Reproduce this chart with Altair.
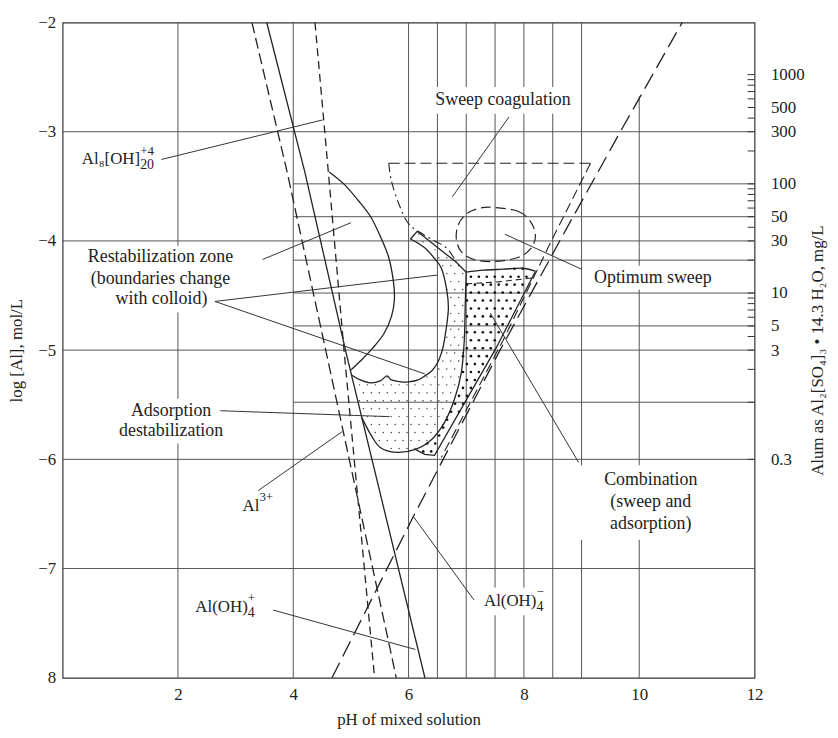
import altair as alt
import numpy as np
import pandas as pd

# ---------------- axes / grid values ----------------
PH_TICKS = [2, 4, 6, 8, 10, 12]
LOG_TICKS = [-2, -3, -4, -5, -6, -7, -8]
V_GRID_FULL = [2, 4, 6, 6.5, 7, 7.5, 8, 8.5, 9]
V_GRID_PH10 = 10
V_GRID_PH10_TOP = -2.676
H_GRID_FULL = [-3, -4, -5, -6, -7]
ALUM_GRID_MG = [100, 50, 20, 10, 5, 1]          # partial lines, pH 4 .. 12
ALUM_LABELS_MG = [0.3, 3, 5, 10, 30, 50, 100, 300, 500, 1000]
ALUM_TICKS_MG = [0.3, 1, 2, 3, 4, 5, 6, 7, 8, 9, 10, 20, 30, 40, 50, 60, 70, 80, 90,
                 100, 200, 300, 400, 500, 600, 700, 800, 900, 1000]
MG_PER_MOL_AL = 3.0e5   # 1e-3 mol/L Al  ->  ~300 mg/L alum

# ---------------- boundary lines (pH, log[Al]) ----------------
AL3_LINE = [(3.284, -2.0), (3.89, -3.36), (4.574, -5.027), (5.787, -8.0)]        # long dash
AL8_LINE = [(4.377, -2.0), (4.607, -3.36), (4.885, -5.027), (5.41, -8.0)]        # short dash
ALOH_P_LINE = [(3.54, -2.0), (4.197, -3.36), (4.918, -5.027), (6.283, -8.0)]     # solid
ALOH4_LINE = [(4.672, -8.0), (6.083, -6.524), (7.586, -5.0), (8.667, -3.956),
              (9.672, -3.0), (10.745, -2.0)]                                     # long dash

# ---------------- zones ----------------
RESTAB1 = [(4.623, -3.368), (4.885, -3.482), (5.131, -3.632), (5.344, -3.781), (5.508, -3.956),
           (5.656, -4.152), (5.738, -4.375), (5.754, -4.536), (5.705, -4.688), (5.574, -4.848),
           (5.377, -4.982), (5.164, -5.1), (5.0, -5.182)]
RESTAB2 = [(5.01, -5.227), (5.164, -5.273), (5.344, -5.3), (5.508, -5.282), (5.623, -5.236),
           (5.705, -5.273), (5.869, -5.291), (6.0, -5.291), (6.167, -5.273), (6.283, -5.236),
           (6.4, -5.191), (6.5, -5.118), (6.569, -5.027), (6.621, -4.911), (6.69, -4.625),
           (6.655, -4.429), (6.569, -4.25), (6.45, -4.161), (6.317, -4.08), (6.183, -4.027),
           (6.033, -3.982)]
ROOF = [(6.033, -3.982), (6.15, -3.912), (6.828, -4.196), (7.0, -4.286)]
ADSORB_EDGE = [(5.19, -5.618), (5.344, -5.773), (5.508, -5.891), (5.787, -5.936), (6.117, -5.909),
               (6.4, -5.818), (6.621, -5.664), (6.793, -5.455), (6.914, -5.209), (6.966, -4.911),
               (6.983, -4.58), (7.0, -4.286)]
COMB_EDGE = [(6.117, -5.909), (6.283, -5.955), (6.45, -5.964), (7.517, -4.982), (8.2, -4.277)]
COMB_TOP = [(7.0, -4.286), (7.3, -4.268), (7.638, -4.259), (7.983, -4.25), (8.2, -4.277)]
COMB_DASH = [(7.0, -4.393), (7.552, -4.375), (8.15, -4.339)]
SWEEP_TOP = [(5.656, -3.289), (9.155, -3.289)]
SWEEP_LEFT = [(5.656, -3.289), (5.705, -3.456), (5.836, -3.667), (6.0, -3.842), (6.25, -3.939),
              (6.45, -4.0), (6.672, -4.071), (6.828, -4.196)]
SWEEP_RIGHT = [(9.155, -3.289), (8.517, -3.956), (7.638, -4.911), (6.569, -5.982)]
OPTIMUM = [(7.467, -3.693), (7.897, -3.728), (8.117, -3.825), (8.2, -3.956), (8.117, -4.071),
           (7.897, -4.152), (7.467, -4.188), (7.133, -4.17), (6.914, -4.098), (6.828, -3.982),
           (6.862, -3.851), (7.0, -3.754), (7.217, -3.702)]

# ---------------- labels and leaders ----------------
LEADERS = [
    ((1.714, -3.254), (4.508, -2.892)),
    ((3.468, -4.17), (5.0, -3.833)),
    ((2.642, -4.554), (6.5, -4.3125)),
    ((2.642, -4.554), (6.283, -5.218)),
    ((2.734, -5.555), (5.672, -5.609)),
    ((3.394, -6.286), (4.852, -5.745)),
    ((3.651, -7.38), (6.117, -7.741)),
    ((7.133, -7.287), (6.083, -6.524)),
    ((7.741, -2.865), (6.759, -3.596)),
    ((7.672, -3.939), (9.0, -4.259)),
    ((7.417, -4.661), (8.95, -6.029)),
]
CENTER_TEXT = [
    ("Sweep coagulation", 7.638, -2.712),
    ("Optimum sweep", 10.236, -4.339),
    ("Combination", 10.2, -6.19),
    ("(sweep and", 10.2, -6.39),
    ("adsorption)", 10.2, -6.59),
    ("Restabilization zone", 1.697, -4.152),
    ("(boundaries change", 1.697, -4.348),
    ("with colloid)", 1.714, -4.536),
    ("Adsorption", 1.882, -5.555),
    ("destabilization", 1.882, -5.745),
]
SPECIES_MAIN = [("Al₈[OH]", 1.345, -3.254), ("Al", 3.413, -6.429),
                ("Al(OH)", 3.211, -7.352), ("Al(OH)", 8.217, -7.296)]
SPECIES_SUB = [("20", 1.345, -3.254), ("4", 3.211, -7.352), ("4", 8.217, -7.296)]
SPECIES_SUP = [("+4", 1.345, -3.254), ("3+", 3.413, -6.429),
               ("+", 3.211, -7.352), ("−", 8.217, -7.296)]
# white boxes behind labels (pH from, pH to, log from, log to)
LABEL_BOXES = [
    (6.40, 8.90, -2.591, -2.836),
    (9.20, 11.30, -4.227, -4.445),
    (8.95, 11.35, -6.055, -6.736),
    (0.40, 3.00, -4.045, -4.655),
    (0.90, 2.86, -5.445, -5.855),
    (7.26, 8.45, -7.173, -7.427),
]

FONT = "Liberation Serif"
INK = "#222222"
GRID = "#555555"

# ---------------- scales / encodings ----------------
X = alt.X("x:Q", scale=alt.Scale(domain=[0, 12], nice=False, zero=False),
          axis=alt.Axis(values=PH_TICKS, title="pH of mixed solution", grid=False, ticks=False,
                        domain=False, labelPadding=9, titlePadding=9, labelFlush=False,
                        labelOverlap=False))
Y = alt.Y("y:Q", scale=alt.Scale(domain=[-8, -2], nice=False, zero=False),
          axis=alt.Axis(values=LOG_TICKS, title="log [Al], mol/L",
                        labelExpr="datum.value == -8 ? '8' : datum.label",
                        grid=False, ticks=False, domain=False, labelPadding=7, titlePadding=12,
                        labelFlush=False, labelOverlap=False))


def path_df(points):
    return pd.DataFrame({"x": [p[0] for p in points], "y": [p[1] for p in points],
                         "i": list(range(len(points)))})


def line_layer(points, dash=None, interp="linear", width=1.3, color=INK):
    kw = dict(color=color, strokeWidth=width, interpolate=interp)
    if dash:
        kw["strokeDash"] = dash
    return alt.Chart(path_df(points)).mark_line(**kw).encode(x=X, y=Y, order="i:Q")


# grid segments
seg = []
for v in V_GRID_FULL:
    seg.append((v, v, -8.0, -2.0))
seg.append((V_GRID_PH10, V_GRID_PH10, -8.0, V_GRID_PH10_TOP))
for h in H_GRID_FULL:
    seg.append((0.0, 12.0, h, h))
for mg in ALUM_GRID_MG:
    h = float(np.log10(mg / MG_PER_MOL_AL))
    seg.append((4.0, 12.0, h, h))
grid_df = pd.DataFrame(seg, columns=["x", "x2", "y", "y2"])
grid = alt.Chart(grid_df).mark_rule(color=GRID, strokeWidth=1).encode(
    x=X, x2="x2:Q", y=Y, y2="y2:Q")

boxes_df = pd.DataFrame(LABEL_BOXES, columns=["x", "x2", "y", "y2"])
boxes = alt.Chart(boxes_df).mark_rect(color="white").encode(x=X, x2="x2:Q", y=Y, y2="y2:Q")


# stipple texture for the two dotted zones
def inside(px, py, poly):
    c = False
    n = len(poly)
    for a in range(n):
        x1, y1 = poly[a]
        x2, y2 = poly[(a + 1) % n]
        if (y1 > py) != (y2 > py):
            xi = x1 + (py - y1) * (x2 - x1) / (y2 - y1)
            if px < xi:
                c = not c
    return c


def stipple(poly, step_x, step_y):
    xs = [p[0] for p in poly]
    ys = [p[1] for p in poly]
    out = []
    row = 0
    yy = min(ys) + step_y / 2
    while yy < max(ys):
        xx = min(xs) + (step_x / 2 if row % 2 else 0.0)
        while xx < max(xs):
            if inside(xx, yy, poly):
                out.append((xx, yy))
            xx += step_x
        yy += step_y
        row += 1
    return pd.DataFrame(out, columns=["x", "y"])


STEP_X = 8 / (697 / 12)
STEP_Y = 8 / 110
light_poly = [(5.01, -5.227)] + ADSORB_EDGE + ROOF[::-1][1:] + RESTAB2[::-1][1:-1]
dense_poly = COMB_TOP + COMB_EDGE[::-1][1:] + ADSORB_EDGE[5:-1]
light_dots = alt.Chart(stipple(light_poly, STEP_X, STEP_Y)).mark_circle(
    size=2, color="#333", opacity=1).encode(x=X, y=Y)
dense_dots = alt.Chart(stipple(dense_poly, STEP_X, STEP_Y)).mark_circle(
    size=7, color="#111", opacity=1).encode(x=X, y=Y)

curves = [
    line_layer(AL3_LINE, dash=[11, 5]),
    line_layer(AL8_LINE, dash=[8, 5]),
    line_layer(ALOH_P_LINE),
    line_layer(ALOH4_LINE, dash=[17, 7]),
    line_layer(RESTAB1, interp="cardinal"),
    line_layer(RESTAB2, interp="cardinal"),
    line_layer(ROOF),
    line_layer(ADSORB_EDGE, interp="cardinal"),
    line_layer(COMB_EDGE),
    line_layer(COMB_TOP, interp="cardinal"),
    line_layer(COMB_DASH, dash=[6, 4], width=1.1),
    line_layer(SWEEP_TOP, dash=[11, 5], width=1.1),
    line_layer(SWEEP_LEFT, dash=[9, 4, 2, 4], interp="cardinal", width=1.1),
    line_layer(SWEEP_RIGHT, dash=[10, 5], width=1.1),
    line_layer(OPTIMUM, dash=[10, 5], interp="cardinal-closed", width=1.2),
]

lead_df = pd.DataFrame([(a[0], b[0], a[1], b[1]) for a, b in LEADERS],
                       columns=["x", "x2", "y", "y2"])
leaders = alt.Chart(lead_df).mark_rule(color="#333", strokeWidth=1).encode(
    x=X, x2="x2:Q", y=Y, y2="y2:Q")


def text_layer(rows, align, size, dy=0):
    df = pd.DataFrame(rows, columns=["t", "x", "y"])
    return alt.Chart(df).mark_text(font=FONT, fontSize=size, color=INK, align=align,
                                   baseline="middle", dy=dy).encode(x=X, y=Y, text="t:N")


texts = [
    text_layer(CENTER_TEXT, "center", 18),
    text_layer(SPECIES_MAIN, "right", 17),
    text_layer(SPECIES_SUB, "left", 14, dy=6),
    text_layer(SPECIES_SUP, "left", 13, dy=-9),
]

main = alt.layer(grid, boxes, light_dots, dense_dots, *curves, leaders, *texts)

# right-hand alum axis with inward ticks
tick_df = pd.DataFrame({"y": [float(np.log10(m / MG_PER_MOL_AL)) for m in ALUM_TICKS_MG]})
tick_df["x"] = 11.88
tick_df["x2"] = 12.0
right = alt.Chart(tick_df).mark_rule(color="#333", strokeWidth=1).encode(
    x=X, x2="x2:Q",
    y=alt.Y("y:Q", scale=alt.Scale(domain=[-8, -2], nice=False, zero=False),
            axis=alt.Axis(orient="right",
                          values=[float(np.log10(m / MG_PER_MOL_AL)) for m in ALUM_LABELS_MG],
                          labelExpr=f"format({MG_PER_MOL_AL} * pow(10, datum.value), '.4~g')",
                          title="Alum as Al₂[SO₄]₃ • 14.3 H₂O, mg/L",
                          titleAngle=270, grid=False, ticks=False, domain=False,
                          labelPadding=16, titlePadding=22, labelFlush=False,
                          labelOverlap=False)))

chart = alt.layer(main, right).resolve_scale(y="independent").properties(
    width=697, height=660,
    autosize=alt.AutoSizeParams(type="none"),
    padding={"left": 55, "top": 12, "right": 76, "bottom": 50},
).configure_view(stroke="#333", strokeWidth=1.2).configure_axis(
    labelFont=FONT, titleFont=FONT, labelFontSize=17, titleFontSize=17,
    labelColor=INK, titleColor=INK, titleFontWeight="normal")

chart.save("out.html", embed_options={"renderer": "svg", "actions": False})
